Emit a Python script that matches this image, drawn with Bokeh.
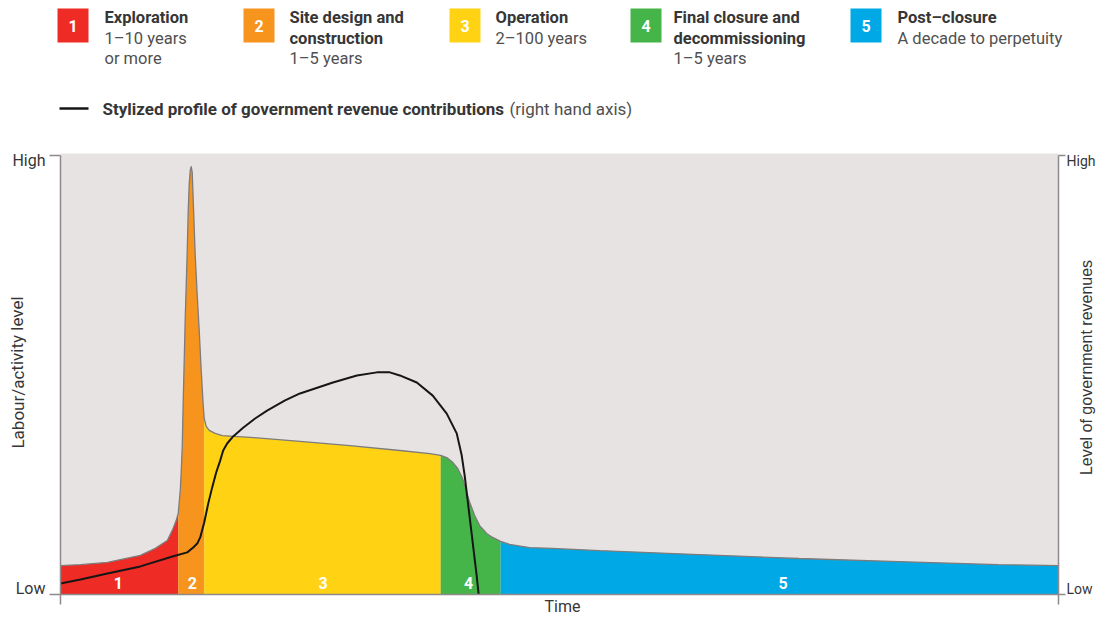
from bokeh.plotting import figure
from bokeh.models import Range1d, BoxAnnotation
from bokeh.embed import file_html
from bokeh.resources import INLINE
from bokeh.core.properties import value

# ---------------- data ----------------
# time runs 0..100 (stylised); level runs 0 (Low) .. 1 (High)
activity_x = [0.0, 2.0, 4.7, 8.0, 9.5, 10.7, 11.2, 11.6, 11.8, 12.0, 12.1, 12.2, 12.3, 12.5,
              12.7, 12.8, 12.9, 13.0, 13.1, 13.2, 13.3, 13.5, 13.7, 13.9, 14.1, 14.3, 14.4,
              14.6, 14.9, 15.5, 16.2, 19.0, 24.0, 29.0, 34.0, 37.0, 38.1, 38.7, 39.3, 39.8,
              40.3, 40.7, 41.0, 41.5, 42.0, 42.7, 43.3, 44.1, 45.0, 47.0, 49.3, 54.0, 64.0,
              74.0, 84.0, 94.0, 100.0]
activity_y = [0.066, 0.068, 0.073, 0.089, 0.105, 0.123, 0.146, 0.169, 0.185, 0.237, 0.282,
              0.339, 0.442, 0.631, 0.784, 0.875, 0.936, 0.966, 0.975, 0.961, 0.897, 0.772,
              0.681, 0.601, 0.510, 0.431, 0.401, 0.383, 0.374, 0.367, 0.362, 0.358, 0.349,
              0.339, 0.328, 0.321, 0.317, 0.312, 0.301, 0.287, 0.264, 0.232, 0.210, 0.180,
              0.157, 0.139, 0.130, 0.121, 0.114, 0.107, 0.105, 0.100, 0.091, 0.082, 0.075,
              0.068, 0.066]

revenue_x = [0.0, 2.0, 4.7, 8.0, 11.3, 12.7, 13.3, 13.7, 14.0, 14.4, 14.8, 15.2, 15.6, 16.0,
             16.3, 16.7, 17.3, 18.3, 19.5, 20.7, 22.5, 24.0, 27.3, 29.7, 31.7, 33.0, 34.0,
             35.7, 37.3, 38.7, 39.7, 40.2, 40.5, 40.8, 41.1, 41.4, 41.7, 41.9]
revenue_y = [0.025, 0.034, 0.048, 0.064, 0.087, 0.096, 0.107, 0.116, 0.130, 0.164, 0.207,
             0.244, 0.278, 0.305, 0.328, 0.344, 0.360, 0.380, 0.401, 0.419, 0.442, 0.458,
             0.483, 0.499, 0.506, 0.506, 0.499, 0.483, 0.453, 0.412, 0.367, 0.317, 0.271,
             0.214, 0.157, 0.100, 0.043, 0.0]

phase_bounds = [0.0, 11.8, 14.4, 38.1, 44.1, 100.0]
phase_nums = ["1", "2", "3", "4", "5"]
phase_label_x = [5.8, 13.2, 26.3, 40.9, 72.4]
phase_colors = ["#EE2B24", "#F7941E", "#FFD314", "#46B549", "#00A9E5"]
phase_titles = [["Exploration"], ["Site design and", "construction"], ["Operation"],
                ["Final closure and", "decommissioning"], ["Post\u2013closure"]]
phase_durations = [["1\u201310 years", "or more"], ["1\u20135 years"], ["2\u2013100 years"],
                   ["1\u20135 years"], ["A decade to perpetuity"]]

level_ticks = [0, 1]
level_labels = ["Low", "High"]
time_ticks = [0, 100]

# ---------------- layout helpers (canvas pixel -> data coords) ----------------
W, H = 1096, 616
PX_LEFT, PX_RIGHT, PX_BOTTOM, PX_TOP = 60, 1058, 594, 155

def sx(px):
    return (px - PX_LEFT) / ((PX_RIGHT - PX_LEFT) / 100.0)

def sy(py):
    return (PX_BOTTOM - py) / float(PX_BOTTOM - PX_TOP)

FONT = value("Roboto")
AXIS_COL = "#8f8a8a"
DARK = "#363636"
MID = "#505050"

p = figure(width=W, height=H, x_range=Range1d(sx(0), sx(W)), y_range=Range1d(sy(H), sy(0)),
           output_backend="svg", toolbar_location=None,
           min_border=0, min_border_left=0, min_border_right=0, min_border_top=0,
           min_border_bottom=0, x_axis_location=None, y_axis_location=None,
           background_fill_color="white", border_fill_color="white",
           outline_line_color=None)
p.grid.visible = False

# plot-area background
p.add_layout(BoxAnnotation(left=time_ticks[0], right=time_ticks[1], bottom=level_ticks[0],
                           top=sy(153), fill_color="#E6E3E2", fill_alpha=1,
                           line_color=None, level="underlay"))

# phase areas
for i in range(5):
    lo, hi = phase_bounds[i], phase_bounds[i + 1]
    xs = [x for x in activity_x if lo <= x <= hi]
    ys = [y for x, y in zip(activity_x, activity_y) if lo <= x <= hi]
    p.varea(x=xs, y1=[0] * len(xs), y2=ys, fill_color=phase_colors[i], fill_alpha=1)

p.line(activity_x, activity_y, line_color="#7f7b7b", line_width=1.3)

# revenue line (right hand axis, same 0..1 scale)
p.line(revenue_x, revenue_y, line_color="#161616", line_width=2)

# phase numbers
p.text(x=phase_label_x, y=[sy(582)] * 5, text=phase_nums, text_color="white",
       text_font=FONT, text_font_style="bold", text_font_size="16px",
       text_align="center", text_baseline="middle")

# ---------------- axes ----------------
lo_t, hi_t = level_ticks
x0, x1 = time_ticks
p.segment(x0=[x0, x1, x0], y0=[lo_t, lo_t, lo_t], x1=[x0, x1, x1], y1=[hi_t, hi_t, lo_t],
          line_color=AXIS_COL, line_width=1.5)
p.segment(x0=[sx(49)] * 2, y0=level_ticks, x1=[x0] * 2, y1=level_ticks,
          line_color=AXIS_COL, line_width=1.5)
p.segment(x0=[x1] * 2, y0=level_ticks, x1=[sx(1065)] * 2, y1=level_ticks,
          line_color=AXIS_COL, line_width=1.5)
p.segment(x0=time_ticks, y0=[lo_t] * 2, x1=time_ticks, y1=[sy(604)] * 2,
          line_color=AXIS_COL, line_width=1.5)
p.text(x=[sx(45)] * 2, y=level_ticks, text=level_labels, y_offset=[-6, 5],
       text_font=FONT, text_font_size="16px", text_color=DARK,
       text_align="right", text_baseline="middle")
p.text(x=[sx(1066)] * 2, y=level_ticks, text=level_labels, y_offset=[-6, 5],
       text_font=FONT, text_font_size="14px", text_color=DARK,
       text_align="left", text_baseline="middle")

# axis titles
p.text(x=[sx(17)], y=[sy(372)], text=["Labour/activity level"], angle=1.5708,
       text_font=FONT, text_font_size="17px", text_color=DARK,
       text_align="center", text_baseline="middle")
p.text(x=[sx(1086)], y=[sy(367)], text=["Level of government revenues"], angle=1.5708,
       text_font=value("Liberation Sans"), text_font_size="16px", text_color=DARK,
       text_align="center", text_baseline="middle")
p.text(x=[sx(562)], y=[sy(606)], text=["Time"],
       text_font=FONT, text_font_size="16px", text_color=DARK,
       text_align="center", text_baseline="middle")

# ---------------- legend ----------------
sq_left = [57, 243, 449, 630, 850]
sq_w = 31
txt_left = [104, 289, 495, 673, 897]
line_y = [17, 38, 58]

p.quad(left=[sx(v) for v in sq_left], right=[sx(v + sq_w) for v in sq_left],
       top=[sy(8)] * 5, bottom=[sy(42)] * 5, fill_color=phase_colors, line_color=None)
p.text(x=[sx(v + sq_w / 2) for v in sq_left], y=[sy(25)] * 5, text=phase_nums,
       text_font=FONT, text_font_style="bold", text_font_size="16px", text_color="white",
       text_align="center", text_baseline="middle")

tx, ty, tt, dx, dy, dt = [], [], [], [], [], []
for i in range(5):
    n = len(phase_titles[i])
    for j, t in enumerate(phase_titles[i]):
        tx.append(sx(txt_left[i])); ty.append(sy(line_y[j])); tt.append(t)
    for j, t in enumerate(phase_durations[i]):
        dx.append(sx(txt_left[i])); dy.append(sy(line_y[n + j])); dt.append(t)
p.text(x=tx, y=ty, text=tt, text_font=FONT, text_font_style="bold", text_font_size="16.5px",
       text_color=DARK, text_align="left", text_baseline="middle")
p.text(x=dx, y=dy, text=dt, text_font=FONT, text_font_size="16.5px",
       text_color=MID, text_align="left", text_baseline="middle")

p.segment(x0=[sx(59)], y0=[sy(108)], x1=[sx(88)], y1=[sy(108)],
          line_color="#161616", line_width=2.5)
p.text(x=[sx(102)], y=[sy(108)], text=["Stylized profile of government revenue contributions"],
       text_font=FONT, text_font_style="bold", text_font_size="17px",
       text_color=DARK, text_align="left", text_baseline="middle")
p.text(x=[sx(509)], y=[sy(108)], text=["(right hand axis)"],
       text_font=FONT, text_font_size="17px",
       text_color=MID, text_align="left", text_baseline="middle")

open("out.html", "w").write(file_html(p, INLINE))
